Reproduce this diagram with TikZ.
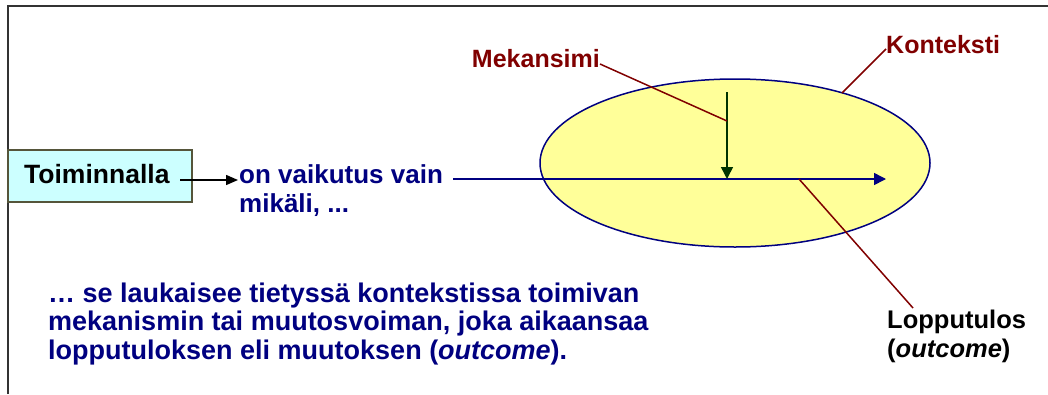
\documentclass[tikz,border=0pt]{standalone}
\usepackage{fontspec}
\setmainfont{Liberation Sans}
\usetikzlibrary{shapes.geometric,arrows.meta}
\definecolor{navy}{HTML}{000080}
\definecolor{darkred}{HTML}{800000}
\definecolor{dgreen}{HTML}{003300}
\definecolor{lyellow}{HTML}{FFFF99}
\definecolor{lcyan}{HTML}{CCFFFF}
\definecolor{boxedge}{HTML}{55553A}
\definecolor{framegray}{HTML}{333333}
\begin{document}
\begin{tikzpicture}[x=1pt,y=-1pt,
  txt/.style={inner sep=0pt, align=left},
  fs/.style={font=\fontsize{#1}{28.5}\selectfont\bfseries},
  leader/.style={darkred, line width=1.5pt},
  tip/.style={-{Triangle[length=12pt,width=12pt]}}
]
\useasboundingbox (0,0) rectangle (1048,394);
% frame
\draw[framegray, line width=2pt] (8,394) -- (8,6) -- (1048,6);
% context ellipse
\node[ellipse, draw=navy, fill=lyellow, line width=1.5pt, minimum width=390pt, minimum height=168pt, inner sep=0pt] (ctx) at (735,163) {};
% action box
\node[draw=boxedge, fill=lcyan, line width=1.2pt, minimum width=184pt, minimum height=52pt, inner sep=0pt] (act) at (100,176) {};
\node[txt, fs=26.5, anchor=base west, text=black] (actt) at (24,183) {Toiminnalla};
% effect text
\node[txt, fs=26, anchor=base west, text=navy] (eff) at (239,212) {on vaikutus vain\\mikäli, ...};
% explanation
\node[txt, fs=27, anchor=base west, text=navy] (expl) at (48,359) {… se laukaisee tietyssä kontekstissa toimivan\\mekanismin tai muutosvoiman, joka aikaansaa\\lopputuloksen eli muutoksen (\textit{outcome}).};
% labels
\node[txt, fs=25, anchor=base east, text=darkred] (mek) at (600,67) {Mekansimi};
\node[txt, fs=25, anchor=base west, text=darkred] (kon) at (886,53) {Konteksti};
\node[txt, fs=25.5, anchor=base west, text=black] (lop) at (887,357) {Lopputulos\\(\textit{outcome})};
% coordinates
\coordinate (a1) at (180,180);
\coordinate (a2) at (238,180);
\coordinate (b1) at (453,179);
\coordinate (b2) at (886,179);
\coordinate (g1) at (727,92);
\coordinate (g2) at (727,179);
\coordinate (m1) at (600,64);
\coordinate (m2) at (727,121);
\coordinate (k1) at (886,49);
\coordinate (k2) at (842,93);
\coordinate (l1) at (799,179);
\coordinate (l2) at (913,308);
% arrows
\draw[black, line width=1.5pt, -{Triangle[length=12pt,width=10pt]}] (a1) -- (a2);
\draw[navy, line width=1.5pt, tip] (b1) -- (b2);
\draw[dgreen, line width=1.5pt, tip] (g1) -- (g2);
% leader lines
\draw[leader] (m1) -- (m2);
\draw[leader] (k1) -- (k2);
\draw[leader] (l1) -- (l2);
\end{tikzpicture}
\end{document}
